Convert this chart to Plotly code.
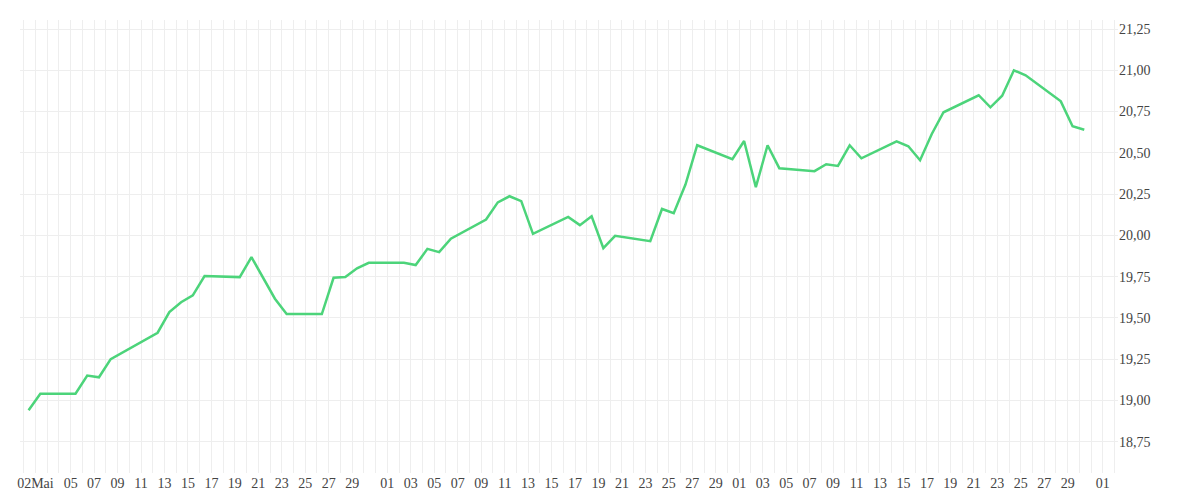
import pandas as pd
import plotly.graph_objects as go

# trading days (10:00) and closing values
dates = [
    "2024-05-01", "2024-05-02", "2024-05-05", "2024-05-06", "2024-05-07", "2024-05-08",
    "2024-05-12", "2024-05-13", "2024-05-14", "2024-05-15", "2024-05-16", "2024-05-19",
    "2024-05-20", "2024-05-22", "2024-05-23", "2024-05-26", "2024-05-27", "2024-05-28",
    "2024-05-29", "2024-05-30", "2024-06-02", "2024-06-03", "2024-06-04", "2024-06-05",
    "2024-06-06", "2024-06-09", "2024-06-10", "2024-06-11", "2024-06-12", "2024-06-13",
    "2024-06-16", "2024-06-17", "2024-06-18", "2024-06-19", "2024-06-20", "2024-06-23",
    "2024-06-24", "2024-06-25", "2024-06-26", "2024-06-27", "2024-06-30", "2024-07-01",
    "2024-07-02", "2024-07-03", "2024-07-04", "2024-07-07", "2024-07-08", "2024-07-09",
    "2024-07-10", "2024-07-11", "2024-07-14", "2024-07-15", "2024-07-16", "2024-07-17",
    "2024-07-18", "2024-07-21", "2024-07-22", "2024-07-23", "2024-07-24", "2024-07-25",
    "2024-07-28", "2024-07-29", "2024-07-30",
]
values = [
    18.94, 19.04, 19.04, 19.15, 19.14, 19.25,
    19.41, 19.535, 19.595, 19.636, 19.753, 19.747,
    19.868, 19.616, 19.523, 19.523, 19.743, 19.747,
    19.80, 19.834, 19.834, 19.82, 19.918, 19.898,
    19.98, 20.096, 20.20, 20.237, 20.207, 20.009,
    20.112, 20.062, 20.116, 19.922, 19.997, 19.965,
    20.16, 20.134, 20.308, 20.546, 20.461, 20.572,
    20.292, 20.546, 20.407, 20.389, 20.431, 20.421,
    20.546, 20.467, 20.57, 20.54, 20.455, 20.614,
    20.746, 20.849, 20.776, 20.846, 21.0, 20.97,
    20.812, 20.661, 20.64,
]

tick_dates = ["2024-05-02"] + [f"2024-05-{d:02d}" for d in range(5, 30, 2)] \
    + [f"2024-06-{d:02d}" for d in range(1, 30, 2)] \
    + [f"2024-07-{d:02d}" for d in range(1, 30, 2)] + ["2024-08-01"]
tick_text = ["02Mai"] + [d[-2:] for d in tick_dates[1:]]

x = pd.to_datetime(dates) + pd.Timedelta(hours=10)

fig = go.Figure(go.Scatter(
    x=x, y=values, mode="lines",
    line=dict(color="#4cd47a", width=2.5),
    hoverinfo="x+y",
))

font = dict(family="Liberation Serif", size=14, color="#444")

fig.update_layout(
    width=1200, height=500,
    margin=dict(l=12, r=90, t=12, b=35),
    plot_bgcolor="white", paper_bgcolor="white",
    separators=",.",
    showlegend=False,
    font=font,
)
fig.update_xaxes(
    range=["2024-04-30 16:25", "2024-08-02 07:00"],
    tickmode="array", tickvals=tick_dates, ticktext=tick_text,
    showgrid=False, zeroline=False, showline=False, ticks="",
    minor=dict(dtick=86400000, tick0="2024-05-01", showgrid=True, gridcolor="#eeeeee", gridwidth=1),
    tickfont=font, automargin=False,
)
fig.update_yaxes(
    side="right", range=[18.56, 21.305], dtick=0.25, tick0=18.75,
    tickformat=".2f", gridcolor="#eeeeee", zeroline=False, ticks="",
    tickfont=font, automargin=False,
)

fig.write_html("out.html")
